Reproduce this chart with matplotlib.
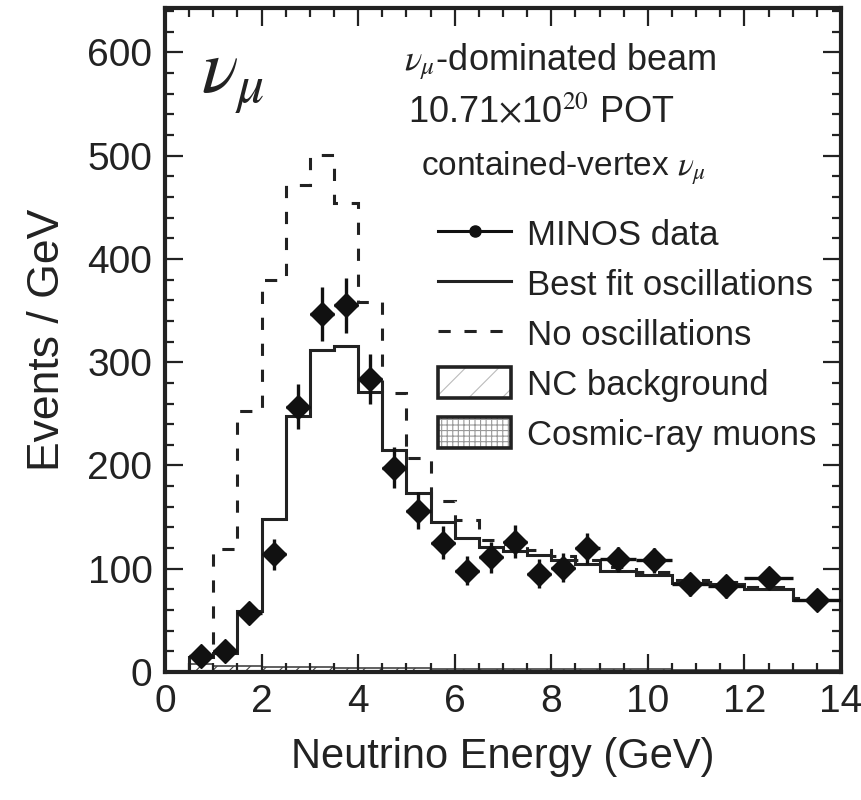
import matplotlib
matplotlib.use("Agg")
import matplotlib.pyplot as plt
from matplotlib.patches import Patch
from matplotlib.lines import Line2D
from matplotlib.legend_handler import HandlerTuple
from matplotlib.ticker import MultipleLocator

plt.rcParams['font.family'] = ['Liberation Sans', 'DejaVu Sans']
plt.rcParams['mathtext.fontset'] = 'stix'
plt.rcParams['hatch.linewidth'] = 0.8

# bin edges (GeV) and bin centres of the MINOS data points
bin_edges = [0.5, 1.0, 1.5, 2.0, 2.5, 3.0, 3.5, 4.0, 4.5, 5.0, 5.5, 6.0,
             6.5, 7.0, 7.5, 8.0, 8.5, 9.0, 9.75, 10.5, 11.25, 12.0, 13.0, 14.0]
data_x = [0.75, 1.25, 1.75, 2.25, 2.75, 3.25, 3.75, 4.25, 4.75, 5.25, 5.75,
          6.25, 6.75, 7.25, 7.75, 8.25, 8.75, 9.375, 10.125, 10.875, 11.625,
          12.5, 13.5]
data_y = [15.5, 20, 57, 114, 257, 347, 355, 284, 198, 156, 125, 98, 111,
          126, 95, 101, 120, 109, 108, 85, 83, 91, 70]
data_err = [6, 6, 11, 15, 22, 26, 27, 24, 20, 18, 16, 14, 15, 16, 14, 14,
            15, 12, 12, 11, 11, 10, 8]

best_fit = [15, 18, 59, 148, 248, 312, 316, 271, 215, 173, 145, 130, 121,
            117, 113, 108, 105, 98, 94, 86, 85, 80, 70]
no_osc = [17, 119, 253, 380, 472, 501, 454, 358, 270, 207, 166, 147, 128,
          124, 118, 112, 108, 102, 97, 89, 87, 82, 72]
nc_bkg = [8, 6, 6, 5, 5, 5, 4, 4, 4, 4, 3, 3, 3, 3, 3, 3, 3, 3, 3, 2, 2, 2, 2]
cosmic = [1, 1, 1, 1, 1, 1, 1, 1, 1, 1, 1, 1, 1, 1, 1, 1, 1, 1, 1, 1, 1, 1, 1]

ink = '#222222'
dash = (0, (4, 4.5))

fig = plt.figure(figsize=(8.62, 8.0), dpi=100)
ax = fig.add_axes([0.1914, 0.16, 0.7842, 0.83])

# backgrounds at the bottom
ax.stairs(nc_bkg, bin_edges, baseline=0, fill=True, facecolor='white',
          edgecolor='#444444', hatch='//', linewidth=1.2)
ax.stairs(cosmic, bin_edges, baseline=0, fill=True, facecolor='white',
          edgecolor='#444444', hatch='++', linewidth=1.0)

# predictions
ax.stairs(no_osc, bin_edges, baseline=0, color=ink, linewidth=2.2,
          linestyle=dash)
ax.stairs(best_fit, bin_edges, baseline=0, color=ink, linewidth=2.2)

# data
half_w = [(b - a) / 2 for a, b in zip(bin_edges[:-1], bin_edges[1:])]
ax.errorbar(data_x, data_y, yerr=data_err, xerr=half_w, fmt='D',
            color='#111111', markersize=12, elinewidth=2.4, capsize=0,
            zorder=5)

ax.set_xlim(0, 14)
ax.set_ylim(0, 643)
ax.xaxis.set_major_locator(MultipleLocator(2))
ax.xaxis.set_minor_locator(MultipleLocator(0.5))
ax.yaxis.set_major_locator(MultipleLocator(100))
ax.yaxis.set_minor_locator(MultipleLocator(20))
ax.tick_params(which='both', direction='in', top=True, right=True,
               labelsize=28, width=1.6, color=ink, labelcolor=ink, pad=9)
ax.tick_params(which='major', length=13)
ax.tick_params(which='minor', length=6.5)
for s in ax.spines.values():
    s.set_linewidth(3)
    s.set_color(ink)

ax.set_xlabel('Neutrino Energy (GeV)', fontsize=30, labelpad=12, color=ink)
ax.set_ylabel('Events / GeV', fontsize=32, labelpad=14, color=ink)

# annotations
ax.text(0.054, 0.945, r'$\nu_\mu$', transform=ax.transAxes, fontsize=55,
        va='top', ha='left', color=ink)
ax.text(0.354, 0.907, r'$\nu_\mu$-dominated beam', transform=ax.transAxes,
        fontsize=26, ha='left', va='baseline', color=ink)
ax.text(0.36, 0.827, r'10.71$\times$10$^{20}$ POT', transform=ax.transAxes,
        fontsize=26, ha='left', va='baseline', color=ink)
ax.text(0.379, 0.748, r'contained-vertex $\nu_\mu$', transform=ax.transAxes,
        fontsize=24, ha='left', va='baseline', color=ink)

box = Patch(facecolor='none', edgecolor=ink, linewidth=2.6)
handles = [
    Line2D([], [], color='#111111', marker='o', markersize=8, linewidth=2.2),
    Line2D([], [], color=ink, linewidth=2.2),
    Line2D([], [], color=ink, linewidth=2.2, linestyle=dash),
    (Patch(facecolor='white', edgecolor='#bbbbbb', hatch='/', linewidth=0),
     box),
    (Patch(facecolor='white', edgecolor='#999999', hatch='+++', linewidth=0),
     box),
]
labels = ['MINOS data', 'Best fit oscillations', 'No oscillations',
          'NC background', 'Cosmic-ray muons']
ax.legend(handles, labels, loc='upper left', bbox_to_anchor=(0.404, 0.685),
          frameon=False, fontsize=25, handlelength=2.1, handleheight=1.0,
          handletextpad=0.45, labelspacing=0.45, borderaxespad=0,
          borderpad=0, labelcolor=ink,
          handler_map={tuple: HandlerTuple(ndivide=1, pad=0)})

fig.savefig('out.png', dpi=100)
